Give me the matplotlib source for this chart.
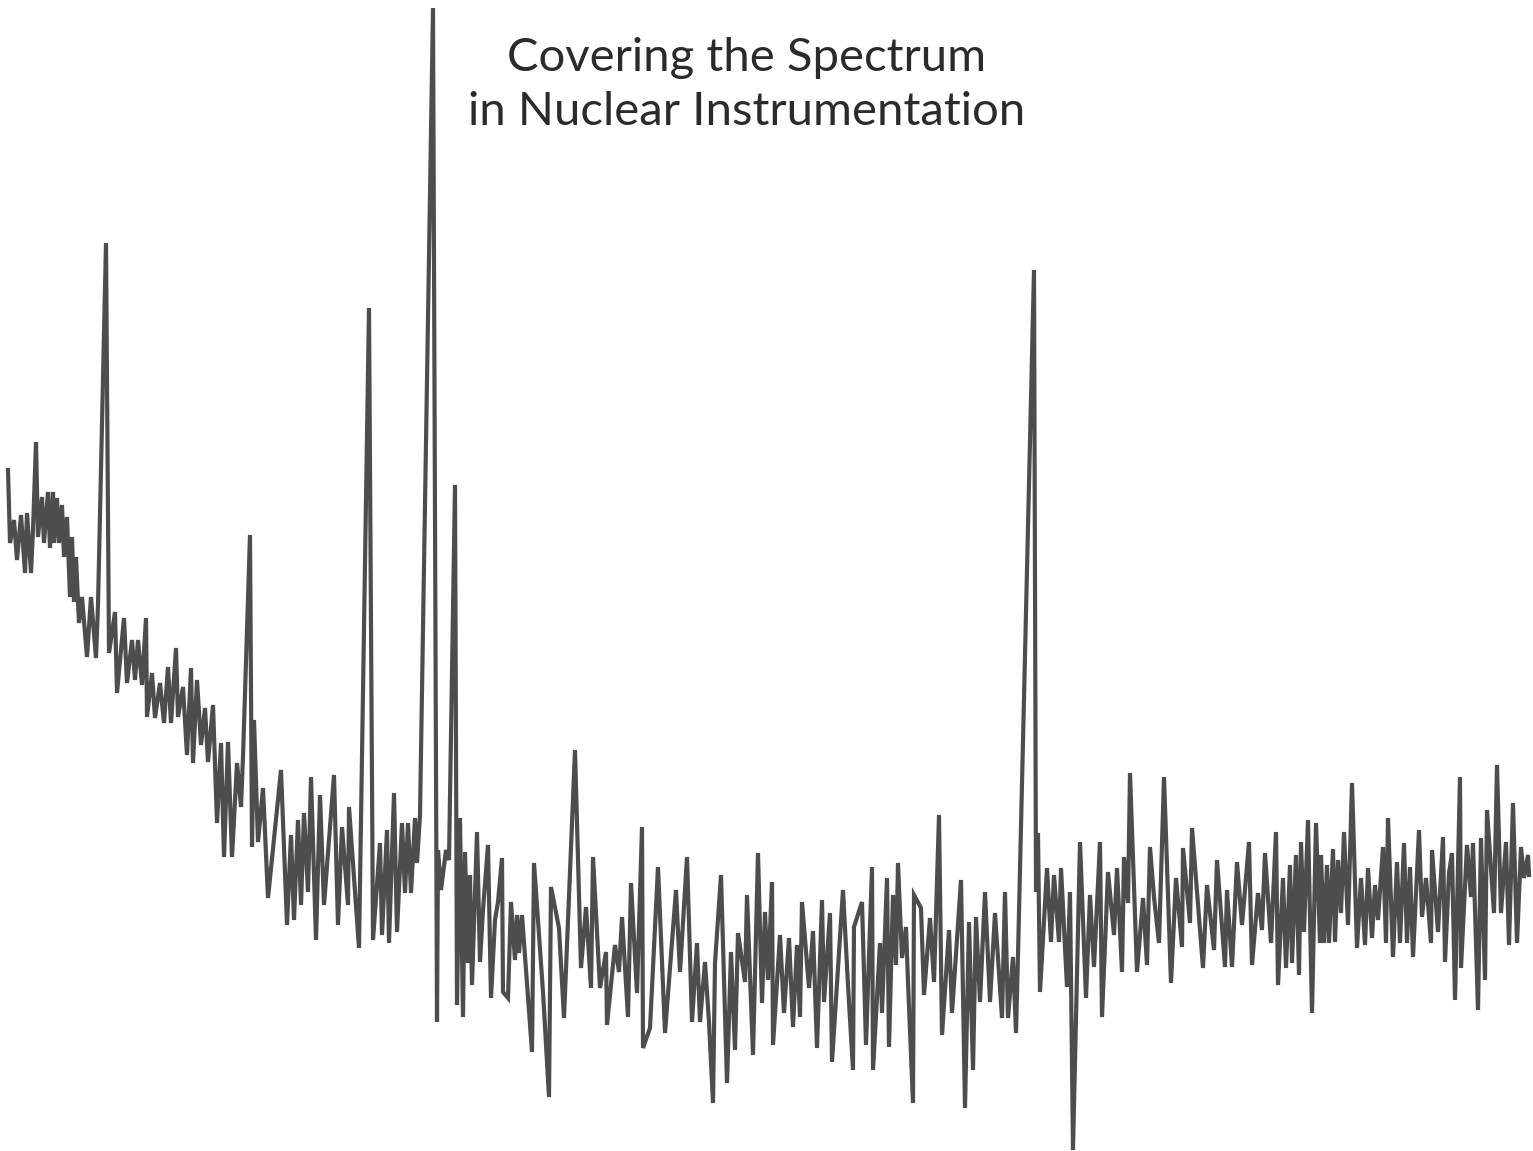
import matplotlib
matplotlib.use("Agg")
import matplotlib.pyplot as plt

# channel numbers and counts
channel = [8, 10, 14, 17, 21, 25, 27, 31, 33, 36, 38, 42, 44, 48, 50, 53, 54, 57, 59, 62,
           64, 67, 70, 72, 74, 76, 79, 82, 87, 91, 96, 98, 106, 109, 115, 117, 124, 127, 132, 135,
           138, 142, 146, 147, 152, 155, 160, 164, 168, 171, 176, 178, 183, 187, 191, 193, 197, 201, 205, 208,
           213, 217, 221, 224, 228, 232, 237, 241, 243, 250, 252, 254, 258, 263, 268, 281, 287, 291, 294, 298,
           301, 304, 308, 311, 316, 320, 324, 334, 338, 342, 348, 349, 353, 359, 369, 373, 380, 382, 387, 389,
           394, 397, 402, 405, 408, 411, 415, 417, 420, 433, 437, 438, 441, 446, 449, 455, 457, 460, 463, 465,
           468, 470, 472, 477, 480, 483, 488, 491, 495, 498, 502, 503, 508, 511, 515, 517, 519, 522, 532, 534,
           543, 549, 551, 559, 564, 575, 581, 586, 591, 593, 600, 606, 607, 615, 619, 622, 628, 631, 637, 642,
           643, 650, 658, 665, 676, 680, 687, 692, 697, 700, 705, 709, 713, 715, 721, 727, 731, 735, 738, 745,
           747, 753, 758, 762, 765, 768, 772, 773, 780, 784, 789, 793, 797, 800, 802, 809, 813, 817, 822, 824,
           830, 832, 843, 848, 853, 854, 862, 866, 872, 873, 880, 882, 887, 889, 893, 896, 898, 902, 906, 908,
           913, 914, 921, 924, 930, 934, 939, 942, 949, 952, 961, 965, 969, 973, 976, 980, 985, 990, 995, 1002,
           1005, 1008, 1013, 1016, 1018, 1034, 1036, 1038, 1040, 1047, 1051, 1054, 1059, 1061, 1067, 1070, 1073, 1080, 1086, 1090,
           1094, 1100, 1102, 1108, 1114, 1117, 1122, 1124, 1128, 1130, 1137, 1143, 1147, 1150, 1154, 1159, 1164, 1171, 1176, 1182,
           1183, 1190, 1192, 1203, 1207, 1214, 1217, 1225, 1227, 1232, 1237, 1242, 1249, 1252, 1258, 1262, 1265, 1271, 1276, 1278,
           1283, 1286, 1290, 1292, 1296, 1299, 1301, 1304, 1308, 1312, 1316, 1320, 1321, 1324, 1327, 1329, 1333, 1335, 1338, 1341,
           1344, 1348, 1352, 1357, 1361, 1365, 1368, 1372, 1375, 1378, 1383, 1386, 1388, 1393, 1397, 1400, 1404, 1407, 1410, 1413,
           1419, 1422, 1426, 1431, 1432, 1438, 1443, 1445, 1449, 1452, 1455, 1460, 1461, 1467, 1471, 1473, 1478, 1481, 1485, 1487,
           1494, 1497, 1501, 1506, 1509, 1513, 1517, 1521, 1524, 1528, 1529]

counts = [681, 608, 631, 591, 636, 578, 638, 578, 621, 709, 614, 654, 608, 659, 603, 659, 608, 653, 608, 646,
          594, 634, 554, 614, 549, 594, 528, 554, 494, 554, 493, 546, 908, 498, 539, 458, 533, 468, 511, 471,
          511, 466, 533, 434, 478, 433, 468, 428, 484, 428, 503, 434, 464, 396, 483, 388, 471, 406, 443, 389,
          446, 328, 408, 294, 409, 294, 388, 344, 394, 616, 304, 431, 309, 363, 253, 381, 226, 316, 231, 331,
          246, 338, 259, 374, 211, 356, 246, 376, 226, 324, 246, 344, 288, 203, 843, 211, 308, 216, 321, 208,
          358, 219, 328, 258, 328, 258, 333, 288, 336, 1143, 129, 301, 261, 301, 291, 666, 146, 333, 134, 299,
          188, 276, 166, 319, 189, 241, 306, 153, 231, 249, 293, 159, 153, 249, 191, 236, 198, 236, 99, 288,
          159, 54, 264, 223, 133, 401, 183, 244, 163, 294, 163, 199, 126, 206, 179, 234, 134, 268, 158, 324,
          103, 123, 284, 118, 261, 179, 294, 129, 208, 129, 189, 129, 48, 188, 276, 68, 199, 101, 218, 169,
          256, 96, 298, 148, 239, 171, 269, 106, 216, 138, 213, 124, 206, 134, 249, 163, 220, 103, 251, 149,
          238, 89, 261, 166, 81, 224, 249, 106, 284, 81, 208, 138, 273, 104, 256, 186, 288, 193, 224, 169,
          48, 256, 243, 156, 233, 169, 336, 116, 221, 138, 271, 43, 229, 81, 234, 149, 259, 149, 238, 133,
          259, 133, 194, 118, 196, 881, 259, 318, 159, 283, 209, 276, 209, 283, 164, 259, 1, 309, 153, 256,
          184, 309, 134, 279, 216, 283, 179, 294, 248, 378, 179, 253, 186, 304, 254, 208, 374, 168, 273, 204,
          303, 228, 323, 183, 266, 201, 291, 184, 261, 184, 289, 226, 309, 186, 258, 221, 298, 208, 319, 166,
          273, 183, 286, 188, 296, 176, 309, 219, 331, 138, 328, 208, 296, 208, 286, 208, 302, 209, 291, 238,
          319, 226, 368, 203, 273, 206, 283, 213, 266, 231, 304, 208, 333, 194, 289, 208, 308, 208, 284, 194,
          321, 234, 273, 208, 301, 219, 314, 189, 278, 298, 151, 374, 183, 306, 254, 308, 141, 313, 171, 341,
          238, 386, 238, 309, 206, 348, 208, 304, 273, 296, 276]

title = "Covering the Spectrum\nin Nuclear Instrumentation"


def main():
    fig = plt.figure(figsize=(15.33, 11.51), dpi=100)
    ax = fig.add_axes([0, 0, 1, 1])

    ax.plot(channel, counts, color="#4d4d4d", linewidth=3.0,
            solid_joinstyle="miter", clip_on=False)

    ax.set_xlim(0, 1533)
    ax.set_ylim(0, 1151)
    ax.axis("off")

    fig.text(0.487, 1 - 85 / 1151, title, ha="center", va="center",
             fontsize=34, family="Lato", color="#2b2b2b", linespacing=1.36)

    fig.savefig("out.png", dpi=100, facecolor="white")


if __name__ == "__main__":
    main()
